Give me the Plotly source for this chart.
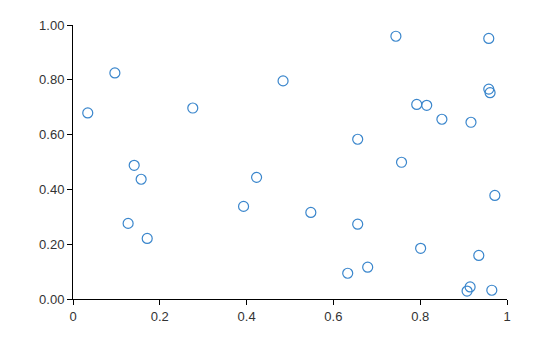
import plotly.graph_objects as go

x_vals = [0.034, 0.0965, 0.276, 0.484, 0.744, 0.958, 0.958, 0.961, 0.792, 0.815,
          0.850, 0.917, 0.656, 0.757, 0.141, 0.157, 0.127, 0.171, 0.393, 0.423,
          0.548, 0.656, 0.972, 0.801, 0.935, 0.679, 0.633, 0.915, 0.908, 0.965]
y_vals = [0.679, 0.825, 0.697, 0.796, 0.959, 0.951, 0.766, 0.753, 0.710, 0.707,
          0.656, 0.645, 0.583, 0.499, 0.488, 0.437, 0.276, 0.221, 0.338, 0.444,
          0.316, 0.273, 0.378, 0.185, 0.159, 0.116, 0.094, 0.044, 0.029, 0.032]

x_ticks = [0, 0.2, 0.4, 0.6, 0.8, 1]
x_tick_labels = ["0", "0.2", "0.4", "0.6", "0.8", "1"]
y_ticks = [0, 0.2, 0.4, 0.6, 0.8, 1.0]
y_tick_labels = ["0.00", "0.20", "0.40", "0.60", "0.80", "1.00"]

fig = go.Figure(go.Scatter(
    x=x_vals, y=y_vals, mode="markers", cliponaxis=False,
    marker=dict(symbol="circle-open", size=10, color="#3a86cc", line=dict(width=1.2)),
))

axis_common = dict(showgrid=False, zeroline=False, showline=True, linecolor="#000",
                   linewidth=1, ticks="outside", ticklen=5, tickcolor="#000",
                   tickfont=dict(family="Liberation Sans, Arial", size=13, color="#333"))

fig.update_layout(
    width=560, height=337,
    margin=dict(l=73, r=53, t=25, b=38),
    paper_bgcolor="white", plot_bgcolor="white",
    showlegend=False,
    xaxis=dict(range=[0, 1], tickvals=x_ticks, ticktext=x_tick_labels, **axis_common),
    yaxis=dict(range=[0, 1], tickvals=y_ticks, ticktext=y_tick_labels, **axis_common),
)

fig.write_html("out.html")
